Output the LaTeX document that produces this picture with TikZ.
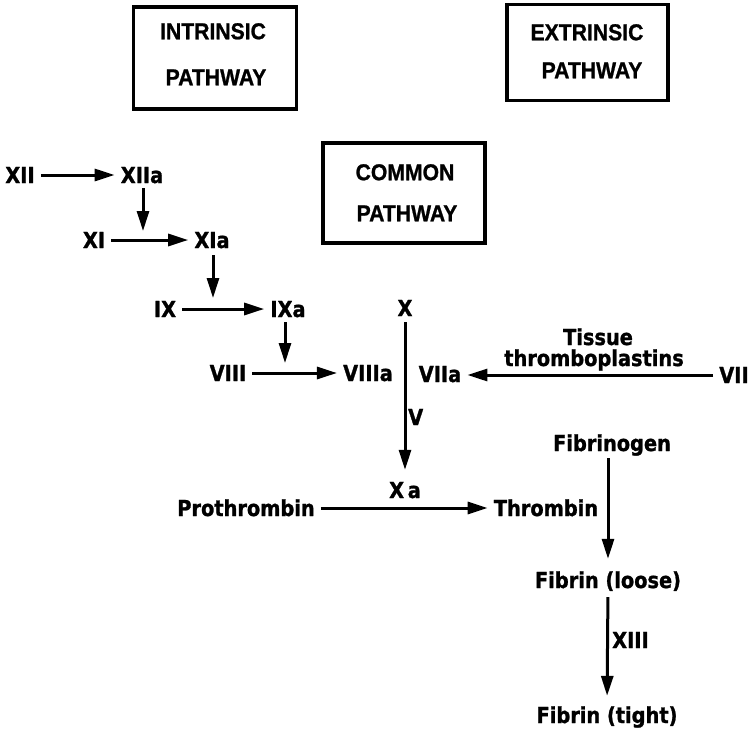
\documentclass[tikz,border=0pt]{standalone}
\usepackage{fontspec}
\setmainfont{DejaVu Sans}
\newfontfamily\lblfont[FakeStretch=0.88,FakeBold=1.2]{DejaVu Sans Bold}
\newfontfamily\boxfont[FakeStretch=0.92,FakeBold=1]{Liberation Sans Bold}
\usetikzlibrary{arrows.meta}
\begin{document}
\begin{tikzpicture}[x=1pt,y=-1pt,
  lbl/.style={font=\lblfont\fontsize{22}{26}\selectfont, inner xsep=6pt, inner ysep=0pt, text height=16pt, text depth=0pt},
  ttl/.style={font=\boxfont\fontsize{23}{27}\selectfont, inner sep=0pt, text height=16.5pt, text depth=0pt},
  pbox/.style={draw, line width=3.5pt, inner sep=0pt},
  arr/.style={line width=3pt, -{Triangle[length=20pt,width=12pt]}}]
\useasboundingbox (0,0) rectangle (752,731);

% pathway boxes
\node[pbox, minimum width=163pt, minimum height=102pt] (intr) at (215,58) {};
\node[ttl] (intrA) at (213,31) {INTRINSIC};
\node[ttl] (intrB) at (216,77) {PATHWAY};
\node[pbox, minimum width=161pt, minimum height=96pt] (extr) at (587.5,52.5) {};
\node[ttl] (extrA) at (587,32) {EXTRINSIC};
\node[ttl] (extrB) at (592,70) {PATHWAY};
\node[pbox, minimum width=162pt, minimum height=100pt] (comm) at (404,193) {};
\node[ttl] (commA) at (405,172) {COMMON};
\node[ttl] (commB) at (407,213) {PATHWAY};

% factors
\node[lbl] (XII) at (20,175) {XII};
\node[lbl] (XIIa) at (142,175) {XIIa};
\node[lbl] (XI) at (94,240) {XI};
\node[lbl] (XIa) at (212,240) {XIa};
\node[lbl] (IX) at (165,309) {IX};
\node[lbl] (IXa) at (288,309) {IXa};
\node[lbl] (VIII) at (228,373) {VIII};
\node[lbl] (VIIIa) at (368,373) {VIIIa};
\node[lbl] (X) at (405,308) {X};
\node[lbl] (VIIa) at (440,374) {VIIa};
\node[lbl] (VII) at (734,375) {VII};
\node[lbl] (tis) at (598,337) {Tissue};
\node[lbl] (thp) at (594,358) {thromboplastins};
\node[lbl, anchor=west] (V) at (402,417) {V};
\node[lbl] (Xa) at (405,490) {X\,a};
\node[lbl] (proth) at (246,508) {Prothrombin};
\node[lbl] (thromb) at (546,508) {Thrombin};
\node[lbl] (fibg) at (612,443) {Fibrinogen};
\node[lbl] (floose) at (608,580) {Fibrin (loose)};
\node[lbl, anchor=west] (XIII) at (606,640) {XIII};
\node[lbl] (ftight) at (607,715) {Fibrin (tight)};

% targets on the arrows
\coordinate (t1) at (143,231);
\coordinate (t2) at (213,298);
\coordinate (t3) at (285,363);

% intrinsic cascade
\draw[arr] (XII) -- (XIIa);
\draw[arr, shorten <=5pt] (XIIa.south -| t1) -- (t1);
\draw[arr] (XI) -- (XIa);
\draw[arr, shorten <=7pt] (XIa.south -| t2) -- (t2);
\draw[arr] (IX) -- (IXa);
\draw[arr, shorten <=5pt] (IXa.south -| t3) -- (t3);
\draw[arr] (VIII) -- (VIIIa);

% extrinsic
\draw[arr] (VII.west) -- (VII.west -| VIIa.east);

% common
\draw[arr, shorten <=6pt, shorten >=12pt] (X.south) -- (Xa.north);
\draw[arr] (proth) -- (thromb);
\draw[arr, shorten <=7pt, shorten >=13pt] (floose.north |- fibg.south) -- (floose.north);
\draw[arr, shorten <=9pt, shorten >=11pt] (floose.south) -- (ftight.north);
\end{tikzpicture}
\end{document}
